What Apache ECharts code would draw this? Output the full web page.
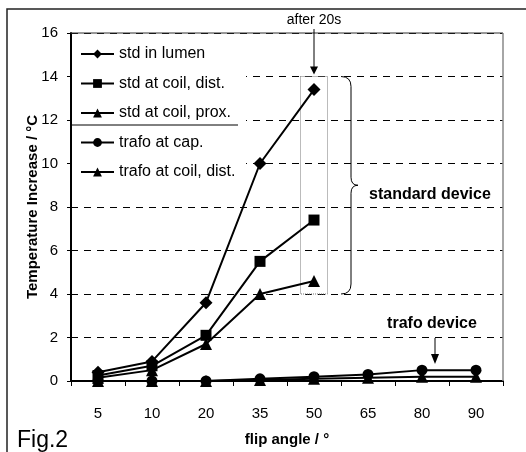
<!DOCTYPE html>
<html>
<head>
<meta charset="utf-8">
<script src="https://cdn.jsdelivr.net/npm/echarts@6/dist/echarts.min.js"></script>
<style>
    html, body {margin: 0; padding: 0; background: #fff;}
    #main {width: 526px; height: 452px;}
</style>
</head>
<body>
<div id="main"></div>
<script>
    var angles = ['5', '10', '20', '35', '50', '65', '80', '90'];
    var yTicks = [0, 2, 4, 6, 8, 10, 12, 14, 16];
    var stdLumen = [0.4, 0.9, 3.6, 10, 13.4];
    var stdCoilDist = [0.25, 0.7, 2.1, 5.5, 7.4];
    var stdCoilProx = [0.15, 0.5, 1.7, 4.0, 4.6];
    var trafoCap = [0, 0, 0, 0.1, 0.2, 0.3, 0.5, 0.5];
    var trafoCoilDist = [0, 0, 0, 0.05, 0.1, 0.15, 0.2, 0.2];

    var font = '"Liberation Sans", Arial, sans-serif';
    var dom = document.getElementById("main");
    var myChart = echarts.init(dom);

    function mkSeries(name, data, symbol, size) {
        return {
            name: name,
            type: 'line',
            data: data,
            symbol: symbol,
            symbolSize: size,
            z: 5,
            lineStyle: {color: '#000', width: 2},
            itemStyle: {color: '#000', borderWidth: 0},
            emphasis: {disabled: true},
            animation: false
        };
    }

    var option = {
        animation: false,
        textStyle: {fontFamily: font},
        grid: {left: 71, top: 33, right: 23, bottom: 66},
        legend: {
            orient: 'vertical',
            left: 75,
            top: 41,
            itemWidth: 33,
            itemHeight: 11,
            itemGap: 13.5,
            z: 6,
            textStyle: {fontFamily: font, fontSize: 16, color: '#000'},
            data: ['std in lumen', 'std at coil, dist.', 'std at coil, prox.', 'trafo at cap.', 'trafo at coil, dist.']
        },
        xAxis: {
            type: 'category',
            data: angles,
            boundaryGap: true,
            name: 'flip angle / °',
            nameLocation: 'middle',
            nameGap: 51,
            nameTextStyle: {fontFamily: font, fontSize: 15, fontWeight: 'bold', color: '#000'},
            axisLine: {lineStyle: {color: '#000', width: 2}},
            axisTick: {show: true, inside: false, length: 5, lineStyle: {color: '#000', width: 1}},
            axisLabel: {margin: 25, fontFamily: font, fontSize: 15, color: '#000'}
        },
        yAxis: {
            type: 'value',
            min: yTicks[0],
            max: yTicks[yTicks.length - 1],
            interval: 2,
            axisLine: {show: true, lineStyle: {color: '#000', width: 2}},
            axisTick: {show: true, inside: false, length: 4, lineStyle: {color: '#000', width: 1}},
            axisLabel: {margin: 13, fontFamily: font, fontSize: 15, color: '#000'},
            splitLine: {show: true, lineStyle: {color: '#000', width: 1, type: [7, 6]}}
        },
        series: [
            mkSeries('std in lumen', stdLumen, 'diamond', 13),
            mkSeries('std at coil, dist.', stdCoilDist, 'rect', 11),
            mkSeries('std at coil, prox.', stdCoilProx, 'triangle', 12),
            mkSeries('trafo at cap.', trafoCap, 'circle', 11),
            mkSeries('trafo at coil, dist.', trafoCoilDist, 'triangle', 12)
        ]
    };
    myChart.setOption(option, true);

    // annotations, placed from data coordinates
    var catW = myChart.convertToPixel({xAxisIndex: 0}, angles[1]) - myChart.convertToPixel({xAxisIndex: 0}, angles[0]);
    var x50 = myChart.convertToPixel({xAxisIndex: 0}, '50');
    var x80 = myChart.convertToPixel({xAxisIndex: 0}, '80');
    var x90 = myChart.convertToPixel({xAxisIndex: 0}, '90');
    var yTop = myChart.convertToPixel({yAxisIndex: 0}, 14);
    var yBot = myChart.convertToPixel({yAxisIndex: 0}, 4);
    var y16 = myChart.convertToPixel({yAxisIndex: 0}, 16);
    var y0 = myChart.convertToPixel({yAxisIndex: 0}, 0);
    var yMid = (yTop + yBot) / 2;
    var xLeft = myChart.convertToPixel({xAxisIndex: 0}, '5') - catW / 2;
    var xRight = x90 + catW / 2;
    var bx = x50 + 27, bv = x50 + 37, bt = x50 + 44;
    var xt = (x80 + x90) / 2 - 18;

    function seg(x1, y1, x2, y2) {
        return {type: 'line', z: 4, silent: true, shape: {x1: x1, y1: y1, x2: x2, y2: y2},
            style: {stroke: '#000', lineWidth: 1}};
    }
    function curve(x1, y1, cx, cy, x2, y2) {
        return {type: 'bezierCurve', z: 4, silent: true,
            shape: {x1: x1, y1: y1, cpx1: cx, cpy1: cy, x2: x2, y2: y2},
            style: {stroke: '#000', lineWidth: 1, fill: 'none'}};
    }

    myChart.setOption({
        graphic: [
            // outer frame
            {type: 'rect', z: 1, silent: true, shape: {x: 7, y: 9, width: 700, height: 700},
                style: {fill: 'none', stroke: '#222', lineWidth: 1.5}},
            // y axis title
            {type: 'text', z: 4, silent: true, x: 33, y: (y16 + y0) / 2, rotation: Math.PI / 2,
                style: {text: 'Temperature Increase / °C', font: 'bold 15px ' + font, fill: '#000',
                    align: 'center', verticalAlign: 'middle'}},
            // plot border top / right
            {type: 'line', z: 4, silent: true, shape: {x1: xLeft, y1: y16, x2: xRight, y2: y16},
                style: {stroke: '#333', lineWidth: 1.2}},
            {type: 'line', z: 4, silent: true, shape: {x1: xRight, y1: y16, x2: xRight, y2: y0},
                style: {stroke: '#888', lineWidth: 1.5}},
            // legend background and separator
            {type: 'rect', z: 3, silent: true, shape: {x: xLeft + 1, y: y16 + 1, width: 174, height: 155},
                style: {fill: '#fff'}},
            seg(xLeft, 125, 238, 125),
            // dotted box around 50
            {type: 'rect', z: 4, silent: true,
                shape: {x: x50 - catW / 4, y: yTop, width: catW / 2, height: yBot - yTop},
                style: {fill: 'none', stroke: '#777', lineWidth: 1, lineDash: [1, 1]}},
            // brace
            curve(bx, yTop, bv, yTop, bv, yTop + 10),
            seg(bv, yTop + 10, bv, yMid - 8),
            curve(bv, yMid - 8, bv, yMid, bt, yMid),
            curve(bt, yMid, bv, yMid, bv, yMid + 8),
            seg(bv, yMid + 8, bv, yBot - 10),
            curve(bv, yBot - 10, bv, yBot, bx, yBot),
            {type: 'text', z: 4, silent: true, style: {x: bt + 11, y: yMid + 9, text: 'standard device',
                font: 'bold 16px ' + font, fill: '#000', verticalAlign: 'middle'}},
            // after 20s
            {type: 'text', z: 4, silent: true, style: {x: x50, y: 20, text: 'after 20s',
                font: '14px ' + font, fill: '#000', align: 'center', verticalAlign: 'middle'}},
            seg(x50, 29, x50, yTop - 8),
            {type: 'polygon', z: 4, silent: true,
                shape: {points: [[x50 - 4, yTop - 10], [x50 + 4, yTop - 10], [x50, yTop - 2]]},
                style: {fill: '#000'}},
            // trafo device
            {type: 'text', z: 4, silent: true, style: {x: xt + 1, y: 324, text: 'trafo device',
                font: 'bold 16px ' + font, fill: '#000', align: 'center', verticalAlign: 'middle'}},
            seg(xt + 4, 338, xt + 4, 356),
            {type: 'polygon', z: 4, silent: true,
                shape: {points: [[xt, 354], [xt + 8, 354], [xt + 4, 364]]},
                style: {fill: '#000'}},
            // figure label
            {type: 'text', z: 4, silent: true, style: {x: 17, y: 441, text: 'Fig.2',
                font: '23px ' + font, fill: '#000', verticalAlign: 'middle'}}
        ]
    });
</script>
</body>
</html>
